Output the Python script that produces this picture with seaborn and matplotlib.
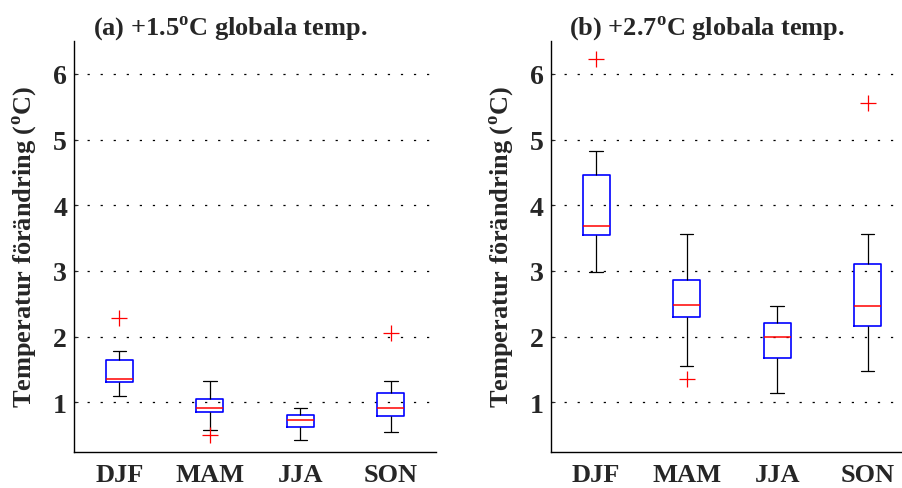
import numpy as np
import pandas as pd
import matplotlib
matplotlib.use("Agg")
import matplotlib.pyplot as plt
import seaborn as sns

sns.set_style("white")
plt.rcParams["font.family"] = ["Liberation Serif", "DejaVu Serif"]
plt.rcParams["font.weight"] = "bold"
plt.rcParams["mathtext.fontset"] = "custom"
plt.rcParams["mathtext.rm"] = "Liberation Serif:bold"
plt.rcParams["mathtext.bf"] = "Liberation Serif:bold"
plt.rcParams["lines.scale_dashes"] = False

seasons = ["DJF", "MAM", "JJA", "SON"]
titles = [r"(a) +1.5$^{\mathbf{o}}$C globala temp.", r"(b) +2.7$^{\mathbf{o}}$C globala temp."]
ylabel = r"Temperatur förändring ($^{\mathbf{o}}$C)"
yticks = [1, 2, 3, 4, 5, 6]

# Box statistics, per season
a_lo = [1.10, 0.585, 0.43, 0.55]
a_q1 = [1.31, 0.85, 0.63, 0.80]
a_med = [1.36, 0.92, 0.74, 0.92]
a_q3 = [1.64, 1.05, 0.81, 1.14]
a_hi = [1.78, 1.32, 0.91, 1.32]
a_out = [[2.29], [0.51], [], [2.05]]

b_lo = [2.98, 1.56, 1.15, 1.48]
b_q1 = [3.55, 2.30, 1.67, 2.17]
b_med = [3.69, 2.48, 1.99, 2.47]
b_q3 = [4.46, 2.86, 2.21, 3.10]
b_hi = [4.83, 3.57, 2.46, 3.56]
b_out = [[6.22], [1.36], [], [5.56]]


def samples(lo, q1, med, q3, hi, out, m=20):
    rows = []
    for s, l, a, md, b, h, o in zip(seasons, lo, q1, med, q3, hi, out):
        vals = [l] + [a] * m + [md] * m + [b] * m + [h] + list(o)
        rows += [(s, v) for v in vals]
    return pd.DataFrame(rows, columns=["season", "value"])


dfs = [samples(a_lo, a_q1, a_med, a_q3, a_hi, a_out),
       samples(b_lo, b_q1, b_med, b_q3, b_hi, b_out)]

fig = plt.figure(figsize=(9.03, 4.89), dpi=100)
positions = [[0.082, 0.0742, 0.401, 0.840], [0.610, 0.0742, 0.401, 0.840]]

for df, title, pos in zip(dfs, titles, positions):
    ax = fig.add_axes(pos)
    sns.boxplot(data=df, x="season", y="value", order=seasons, ax=ax,
                width=0.3, whis=1.5, fill=False, linecolor="blue",
                boxprops=dict(color="blue", linewidth=1.2),
                medianprops=dict(color="red", linewidth=1.1),
                whiskerprops=dict(color="black", linewidth=0.9),
                capprops=dict(color="black", linewidth=0.9),
                flierprops=dict(marker="+", markeredgecolor="red",
                                markerfacecolor="none", markersize=11,
                                markeredgewidth=0.9))
    ax.set_xlim(-0.5, 3.5)
    ax.set_ylim(0.25, 6.5)
    ax.set_yticks(yticks)
    ax.set_yticklabels([str(t) for t in yticks])
    ax.yaxis.grid(True, color="black", linestyle=(0, (1.6, 7.8)), linewidth=0.9)
    ax.xaxis.grid(False)
    ax.set_axisbelow(True)
    for side in ["top", "right"]:
        ax.spines[side].set_visible(False)
    for side in ["left", "bottom"]:
        ax.spines[side].set_color("black")
        ax.spines[side].set_linewidth(1.0)
    ax.tick_params(axis="y", direction="in", length=3, width=0.8, pad=5,
                   labelsize=20, left=True)
    ax.tick_params(axis="x", length=0, pad=8, labelsize=19)
    for lab in ax.get_xticklabels() + ax.get_yticklabels():
        lab.set_fontweight("bold")
    ax.set_xlabel("")
    ax.set_ylabel(ylabel, fontsize=19, fontweight="bold")
    ax.yaxis.set_label_coords(-0.097, 0.5)
    ax.set_title(title, fontsize=19, fontweight="bold", x=0.432, pad=5)

fig.savefig("out.png", dpi=100)
